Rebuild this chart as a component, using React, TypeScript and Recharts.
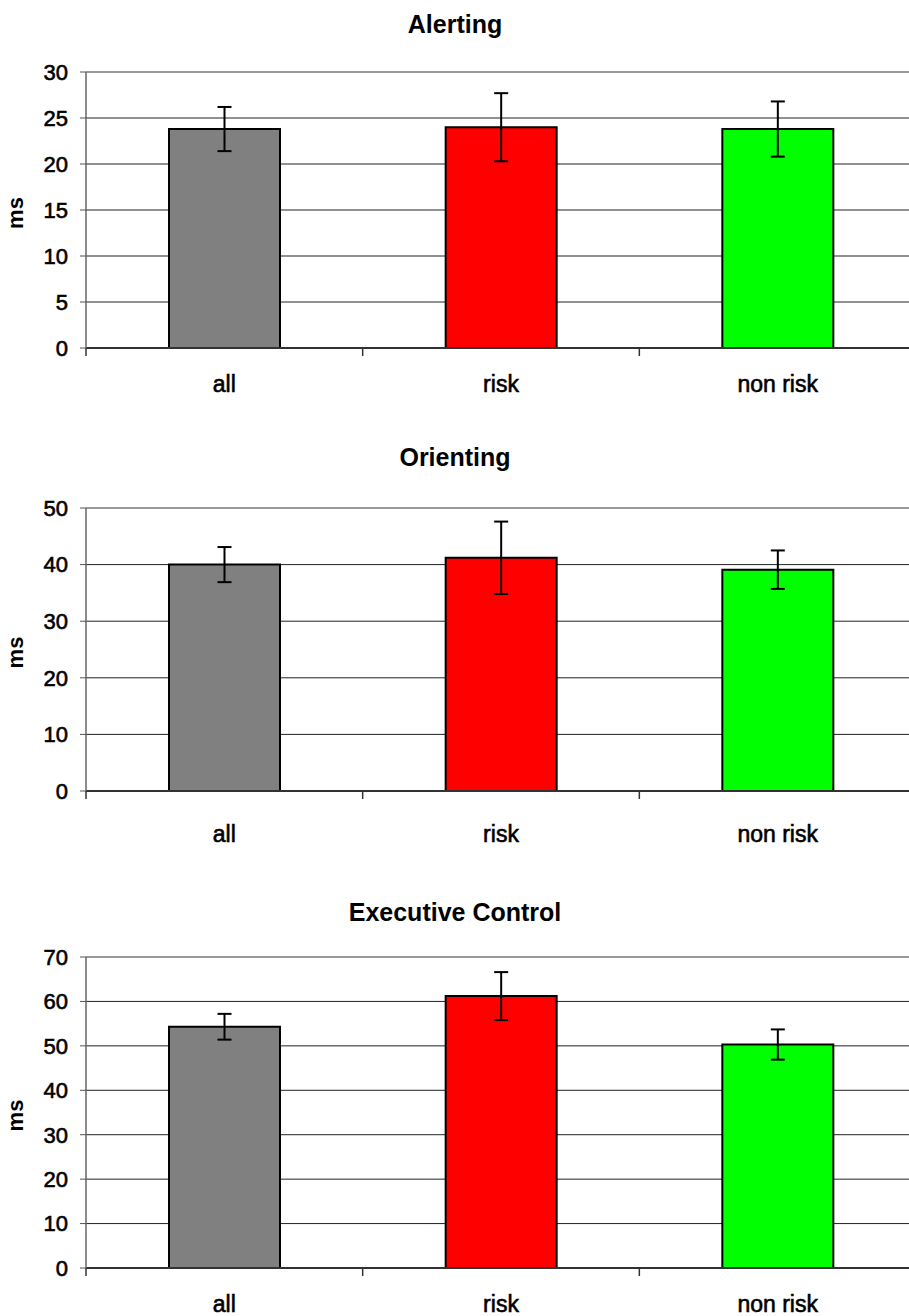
import {
  BarChart, Bar, XAxis, YAxis, CartesianGrid,
  ErrorBar, Cell, ReferenceLine,
} from "recharts";

const CATEGORIES = ["all", "risk", "non risk"];
const BAR_COLORS = ["#808080", "#FF0000", "#00FF00"];

const ALERTING_MEANS = [23.8, 24.0, 23.8];
const ALERTING_ERRORS = [2.4, 3.7, 3.0];
const ALERTING_TICKS = [0, 5, 10, 15, 20, 25, 30];

const ORIENTING_MEANS = [40.0, 41.2, 39.1];
const ORIENTING_ERRORS = [3.1, 6.4, 3.4];
const ORIENTING_TICKS = [0, 10, 20, 30, 40, 50];

const EXECUTIVE_MEANS = [54.3, 61.2, 50.3];
const EXECUTIVE_ERRORS = [2.9, 5.4, 3.4];
const EXECUTIVE_TICKS = [0, 10, 20, 30, 40, 50, 60, 70];

const FONT = '"Liberation Sans", Arial, sans-serif';
const CHART_W = 916;

const makeRows = (means: number[], errors: number[]) =>
  CATEGORIES.map((name, i) => ({ name, mean: means[i], err: errors[i] }));

// label in the middle of the band, tick mark on the band's left edge
const CategoryTick = ({ x, y, payload, labelGap }: any) => {
  const edge = x - (payload?.offset ?? 0);
  return (
    <g>
      <line x1={edge} x2={edge} y1={y} y2={y + 8} stroke="#333" strokeWidth={1.5} />
      <text
        x={x} y={y + labelGap} textAnchor="middle" fontSize={23}
        fill="#000" stroke="#000" strokeWidth={0.6} fontFamily={FONT}
      >
        {payload.value}
      </text>
    </g>
  );
};

const MsLabel = ({ viewBox }: any) => {
  const cy = (viewBox?.y ?? 0) + (viewBox?.height ?? 0) / 2 + 3;
  return (
    <text
      x={23} y={cy} transform={`rotate(-90, 23, ${cy})`}
      textAnchor="middle" fontSize={22} fontWeight="bold" fill="#000" fontFamily={FONT}
    >
      ms
    </text>
  );
};

const Panel = ({ top, marginTop, plotHeight, labelGap, means, errors, ticks }: any) => {
  const rows = makeRows(means, errors);
  const max = ticks[ticks.length - 1];
  const axisH = 55;
  const height = marginTop + plotHeight + axisH;
  return (
    <div style={{ position: "absolute", left: 0, top, width: CHART_W, height }}>
      <BarChart
        width={CHART_W} height={height} data={rows}
        margin={{ top: marginTop, right: 0, bottom: 0, left: 0 }}
      >
        <CartesianGrid vertical={false} stroke="#222" strokeWidth={1} />
        <ReferenceLine y={max} stroke="#999" strokeWidth={2} />
        <XAxis
          dataKey="name" height={axisH}
          tickSize={0} tickMargin={0} tickLine={false}
          axisLine={{ stroke: "#333", strokeWidth: 2 }}
          tick={<CategoryTick labelGap={labelGap} />}
          interval={0}
        />
        <YAxis
          width={86} domain={[0, max]} ticks={ticks} interval={0}
          tickSize={6} tickMargin={12}
          tick={{ fontSize: 22, fill: "#000", stroke: "#000", strokeWidth: 0.6, fontFamily: FONT }}
          tickLine={{ stroke: "#555" }}
          axisLine={{ stroke: "#666", strokeWidth: 1.5 }}
          label={<MsLabel />}
        />
        <Bar dataKey="mean" barSize={111} stroke="#000" strokeWidth={2} isAnimationActive={false}>
          {rows.map((r, i) => (
            <Cell key={r.name} fill={BAR_COLORS[i]} />
          ))}
          <ErrorBar dataKey="err" width={7} stroke="#000" strokeWidth={2} isAnimationActive={false} />
        </Bar>
      </BarChart>
    </div>
  );
};

const TITLES = [
  { text: "Alerting", baseline: 33 },
  { text: "Orienting", baseline: 466 },
  { text: "Executive Control", baseline: 921 },
];

export default function App() {
  return (
    <div style={{ position: "absolute", left: 0, top: 0, width: 909, height: 1316, overflow: "hidden", background: "#fff" }}>
      <svg width={909} height={1316} style={{ position: "absolute", left: 0, top: 0 }}>
        {TITLES.map((t) => (
          <text key={t.text} x={455} y={t.baseline} textAnchor="middle" fontSize={25} fontWeight="bold" fontFamily={FONT}>
            {t.text}
          </text>
        ))}
      </svg>
      <Panel top={0} marginTop={72} plotHeight={276} labelGap={44}
        means={ALERTING_MEANS} errors={ALERTING_ERRORS} ticks={ALERTING_TICKS} />
      <Panel top={430} marginTop={78} plotHeight={283} labelGap={51}
        means={ORIENTING_MEANS} errors={ORIENTING_ERRORS} ticks={ORIENTING_TICKS} />
      <Panel top={880} marginTop={77} plotHeight={311} labelGap={44}
        means={EXECUTIVE_MEANS} errors={EXECUTIVE_ERRORS} ticks={EXECUTIVE_TICKS} />
    </div>
  );
}
